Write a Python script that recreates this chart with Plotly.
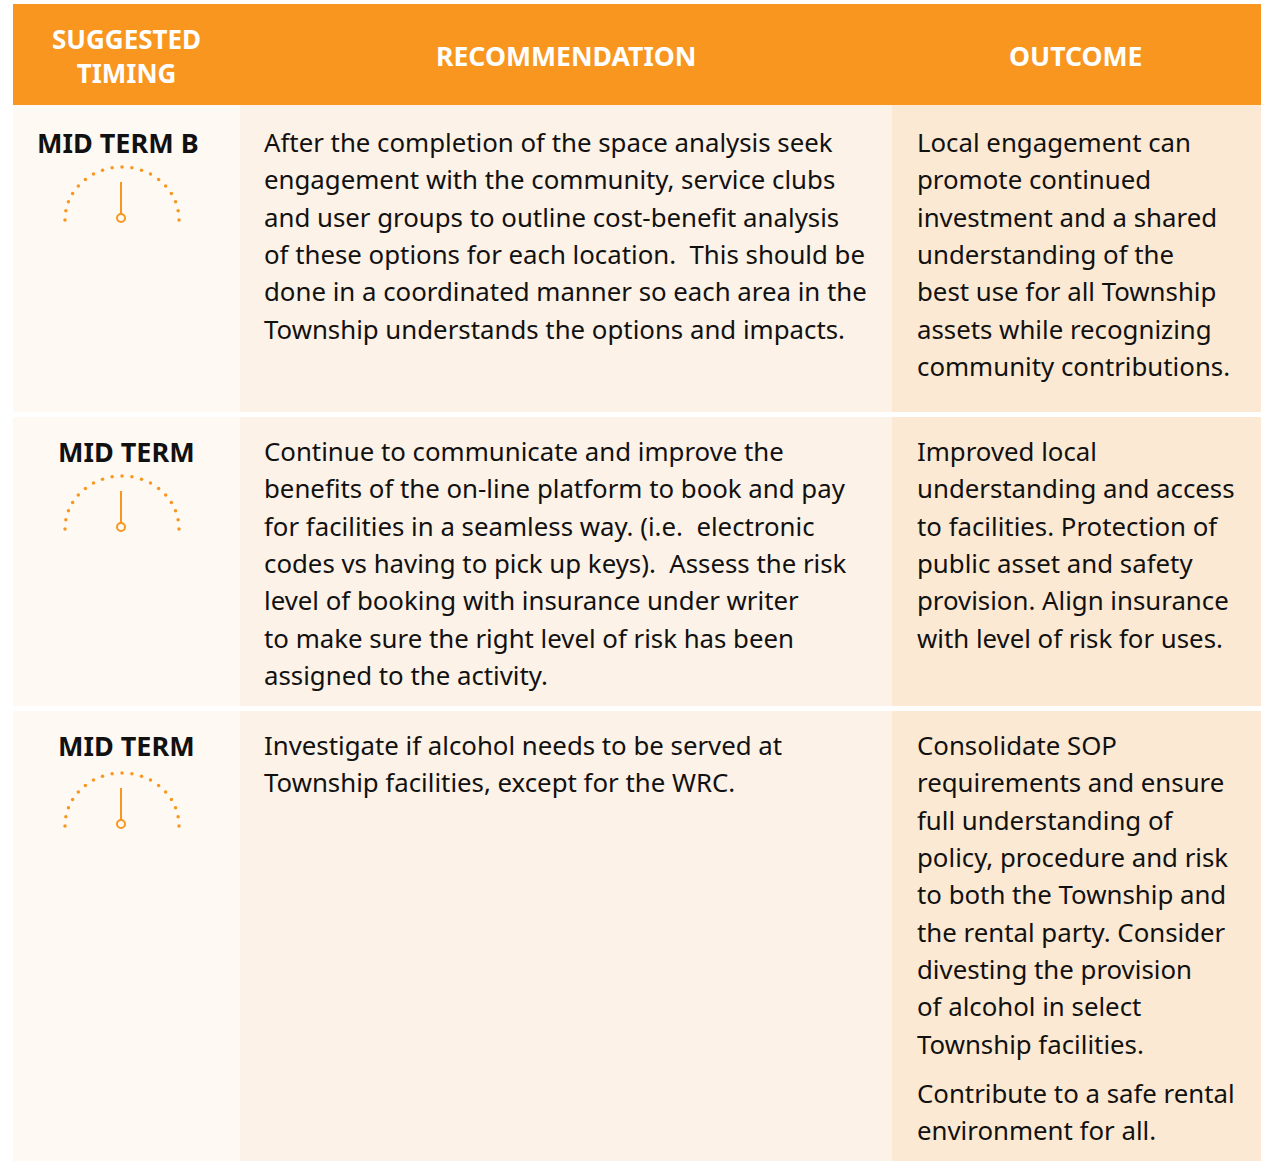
import math
import plotly.graph_objects as go

FONT = "Noto Sans"
W, H = 1262, 1161
header_labels = [["SUGGESTED", "TIMING"], ["RECOMMENDATION"], ["OUTCOME"]]
timing = ["MID TERM B", "MID TERM", "MID TERM"]
recommendation = [
    ["After the completion of the space analysis seek", "engagement with the community, service clubs",
     "and user groups to outline cost-benefit analysis", "of these options for each location.  This should be",
     "done in a coordinated manner so each area in the", "Township understands the options and impacts."],
    ["Continue to communicate and improve the", "benefits of the on-line platform to book and pay",
     "for facilities in a seamless way. (i.e.  electronic", "codes vs having to pick up keys).  Assess the risk",
     "level of booking with insurance under writer", "to make sure the right level of risk has been",
     "assigned to the activity."],
    ["Investigate if alcohol needs to be served at", "Township facilities, except for the WRC."],
]
outcome = [
    ["Local engagement can", "promote continued", "investment and a shared", "understanding of the",
     "best use for all Township", "assets while recognizing", "community contributions."],
    ["Improved local", "understanding and access", "to facilities. Protection of", "public asset and safety",
     "provision. Align insurance", "with level of risk for uses."],
    ["Consolidate SOP", "requirements and ensure", "full understanding of", "policy, procedure and risk",
     "to both the Township and", "the rental party. Consider", "divesting the provision",
     "of alcohol in select", "Township facilities."],
]
outcome_extra = [[], [], ["Contribute to a safe rental", "environment for all."]]

col_x = [13, 240, 892, 1261]
col_fill = ["#FEFAF3", "#FDF2E7", "#FCE9D3"]
header_y = (4, 105)
row_y = [(105, 412), (417, 706), (711, 1161)]
first_line_y = [142, 451, 745]
extra_y = 1093
line_h = 37.35
pivot_y = [218, 527, 824]
ORANGE = "#F9961F"

shapes, ann = [], []
def rect(x0, x1, y0, y1, c):
    shapes.append(dict(type="rect", x0=x0, x1=x1, y0=y0, y1=y1, fillcolor=c, line_width=0, layer="below"))
def text(x, y, s, size=25.8, color="#111111", anchor="left", bold=False):
    ann.append(dict(x=x, y=y, text=f"<b>{s}</b>" if bold else s, showarrow=False, xanchor=anchor, yanchor="middle",
                    align=anchor, xref="x", yref="y",
                    font=dict(family=FONT, size=size, color=color)))

rect(col_x[0], col_x[3], header_y[0], header_y[1], ORANGE)
for (y0, y1) in row_y:
    for i in range(3):
        rect(col_x[i], col_x[i + 1], y0, y1, col_fill[i])

text(126, 55.5, "<br>".join(header_labels[0]), 26, "white", "center", True)
text(566, 55.5, header_labels[1][0], 26.6, "white", "center", True)
text(1076, 55.5, header_labels[2][0], 26.6, "white", "center", True)

dots_x, dots_y = [], []
for r in range(3):
    text(126 if r else 118, first_line_y[r], timing[r], 27, "#111111", "center", True)
    for k, s in enumerate(recommendation[r]):
        text(262, first_line_y[r] + k * line_h, s)
    for k, s in enumerate(outcome[r]):
        text(915, first_line_y[r] + k * line_h, s)
    for k, s in enumerate(outcome_extra[r]):
        text(915, extra_y + k * line_h, s)
    p = pivot_y[r]
    shapes.append(dict(type="line", x0=121, x1=121, y0=p - 36, y1=p - 4, line=dict(color=ORANGE, width=2)))
    for a in range(0, 181, 10):
        t = math.radians(a)
        dots_x.append(122 - 57 * math.cos(t))
        dots_y.append(p + 2 - 53 * math.sin(t))

fig = go.Figure()
fig.add_trace(go.Scatter(x=dots_x, y=dots_y, mode="markers", hoverinfo="skip",
                         marker=dict(size=3.5, color=ORANGE)))
fig.add_trace(go.Scatter(x=[121] * 3, y=pivot_y, mode="markers", hoverinfo="skip",
                         marker=dict(size=8, color="rgba(0,0,0,0)", line=dict(color=ORANGE, width=2))))
fig.update_layout(width=W, height=H, margin=dict(l=0, r=0, t=0, b=0), showlegend=False,
                  paper_bgcolor="white", plot_bgcolor="white", shapes=shapes, annotations=ann,
                  xaxis=dict(range=[0, W], visible=False, fixedrange=True),
                  yaxis=dict(range=[H, 0], visible=False, fixedrange=True))
fig.write_html("out.html", config=dict(displayModeBar=False),
               post_script="document.body.style.margin='0';document.documentElement.style.overflow='hidden';")
